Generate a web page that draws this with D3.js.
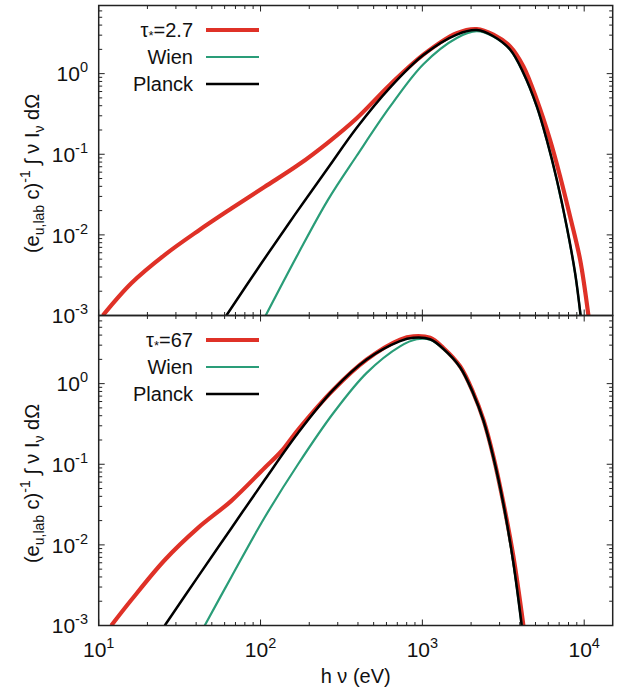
<!DOCTYPE html>
<html lang="en">
<head>
    <meta charset="UTF-8">
    <style>
        body { margin: 0; background: #fff; }
        text { font-family: "Liberation Sans", Arial, sans-serif; fill: #111; }
        .frame { fill: none; stroke: #222; stroke-width: 1.5px; }
        .tick-line { stroke: #222; stroke-width: 1px; }
        .line { fill: none; stroke-linejoin: round; stroke-linecap: butt; }
    </style>
</head>
<body>
    <svg width="627" height="691"></svg>
    <script src="https://cdnjs.cloudflare.com/ajax/libs/d3/7.8.5/d3.min.js"></script>
    <script>

        // top panel, tau* = 2.7
        var topTauE = [10.6, 15.9, 25.6, 41.1, 66.0, 106.2, 170.5, 261, 393, 631, 1014, 1632, 2168, 2746, 3484, 4210, 5093, 6150, 7100, 8180, 9440, 10620];
        var topTauV = [1.0e-3, 2.51e-3, 5.65e-3, 0.0112, 0.0212, 0.0395, 0.0734, 0.1398, 0.280, 0.730, 1.72, 3.18, 3.57, 3.05, 2.18, 1.23, 0.475, 0.151, 0.053, 0.0169, 4.9e-3, 1.0e-3];
        var topWienE = [107.6, 170.5, 261, 393, 631, 1014, 1632, 2168, 2746, 3484, 4210, 5093, 5870, 6780, 7800, 8790, 9500];
        var topWienV = [1.0e-3, 5.8e-3, 0.0272, 0.0958, 0.389, 1.31, 2.77, 3.36, 2.88, 1.97, 1.01, 0.39, 0.15, 0.047, 0.0125, 3.3e-3, 1.0e-3];
        var topPlanckE = [61.5, 101.2, 162.7, 261, 393, 631, 1014, 1632, 2168, 2746, 3484, 4210, 5093, 5870, 6780, 7800, 8790, 9500];
        var topPlanckV = [1.0e-3, 4.45e-3, 0.0177, 0.0674, 0.213, 0.670, 1.70, 3.05, 3.47, 2.91, 1.99, 1.02, 0.393, 0.151, 0.048, 0.0127, 3.34e-3, 1.0e-3];

        // bottom panel, tau* = 67
        var botTauE = [11.96, 15.9, 25.6, 41.1, 66.0, 106.2, 134.5, 170.5, 282, 453, 728, 880, 1116, 1348, 1710, 2066, 2383, 2746, 3170, 3650, 4210];
        var botTauV = [1.0e-3, 2.07e-3, 6.5e-3, 0.01626, 0.0352, 0.0905, 0.145, 0.268, 0.841, 1.99, 3.52, 3.87, 3.70, 2.77, 1.64, 0.766, 0.357, 0.125, 0.033, 7.2e-3, 1.0e-3];
        var botWienE = [45.2, 66.0, 106.2, 170.5, 282, 453, 728, 923, 1116, 1348, 1710, 2066, 2383, 2746, 3170, 3650, 4110];
        var botWienV = [1.0e-3, 4.0e-3, 0.022, 0.1, 0.432, 1.36, 2.90, 3.55, 3.50, 2.68, 1.59, 0.74, 0.345, 0.12, 0.031, 5.9e-3, 1.0e-3];
        var botPlanckE = [25.6, 41.1, 66.0, 106.2, 170.5, 282, 453, 728, 880, 1116, 1348, 1710, 2066, 2383, 2746, 3170, 3650, 4110];
        var botPlanckV = [1.0e-3, 4.04e-3, 0.0161, 0.0642, 0.244, 0.841, 1.99, 3.36, 3.70, 3.55, 2.70, 1.60, 0.75, 0.35, 0.122, 0.032, 6.0e-3, 1.0e-3];

        var xTickExp = [1, 2, 3, 4];
        var yTickExp = [-3, -2, -1, 0];
        var legendNames = ["=2.7", "=67"];

        var svg = d3.select("svg"),
                left = 98.7, right = 612.7,
                panelH = 310,
                tops = [5.5, 315.5];

        var x = d3.scaleLog().domain([10, 15000]).range([left, right]);

        var line = d3.line()
                .curve(d3.curveCatmullRom.alpha(0.5))
                .x(function(d) { return x(d[0]); });

        function zip(e, v) {
            return e.map(function(d, i) { return [d, v[i]]; });
        }

        function minors(lo, hi) {
            var out = [];
            for (var p = Math.floor(Math.log10(lo)); p <= Math.ceil(Math.log10(hi)); p++) {
                for (var m = 2; m <= 9; m++) {
                    var v = m * Math.pow(10, p);
                    if (v > lo && v < hi) out.push(v);
                }
            }
            return out;
        }

        var panels = [
            {series: [
                {name: "tau", e: topTauE, v: topTauV, color: "#df3127", w: 4.2},
                {name: "Wien", e: topWienE, v: topWienV, color: "#2a9d78", w: 2.2},
                {name: "Planck", e: topPlanckE, v: topPlanckV, color: "#000", w: 2.5}
            ], tau: legendNames[0]},
            {series: [
                {name: "tau", e: botTauE, v: botTauV, color: "#df3127", w: 4.2},
                {name: "Wien", e: botWienE, v: botWienV, color: "#2a9d78", w: 2.2},
                {name: "Planck", e: botPlanckE, v: botPlanckV, color: "#000", w: 2.5}
            ], tau: legendNames[1]}
        ];

        panels.forEach(function(p, pi) {
            var top = tops[pi],
                    bottom = top + panelH;
            var y = d3.scaleLog().domain([1e-3, 7]).range([bottom, top]);
            var g = svg.append("g");

            svg.append("clipPath").attr("id", "clip" + pi)
                    .append("rect")
                    .attr("x", left).attr("y", top)
                    .attr("width", right - left).attr("height", panelH);

            var lines = g.append("g").attr("clip-path", "url(#clip" + pi + ")");
            line.y(function(d) { return y(d[1]); });
            p.series.forEach(function(s) {
                lines.append("path")
                        .attr("class", "line")
                        .attr("d", line(zip(s.e, s.v)))
                        .style("stroke", s.color)
                        .style("stroke-width", s.w);
            });

            // ticks, all pointing inward
            var xMaj = xTickExp.map(function(k) { return Math.pow(10, k); }),
                    yMaj = yTickExp.map(function(k) { return Math.pow(10, k); });
            var ticks = g.append("g");
            [[xMaj, 6], [minors(10, 15000), 3.5]].forEach(function(t) {
                t[0].forEach(function(v) {
                    ticks.append("line").attr("class", "tick-line")
                            .attr("x1", x(v)).attr("x2", x(v))
                            .attr("y1", bottom).attr("y2", bottom - t[1]);
                    ticks.append("line").attr("class", "tick-line")
                            .attr("x1", x(v)).attr("x2", x(v))
                            .attr("y1", top).attr("y2", top + t[1]);
                });
            });
            [[yMaj, 6], [minors(1e-3, 7), 3.5]].forEach(function(t) {
                t[0].forEach(function(v) {
                    ticks.append("line").attr("class", "tick-line")
                            .attr("x1", left).attr("x2", left + t[1])
                            .attr("y1", y(v)).attr("y2", y(v));
                    ticks.append("line").attr("class", "tick-line")
                            .attr("x1", right).attr("x2", right - t[1])
                            .attr("y1", y(v)).attr("y2", y(v));
                });
            });

            g.append("rect").attr("class", "frame")
                    .attr("x", left).attr("y", top)
                    .attr("width", right - left).attr("height", panelH);

            // y tick labels
            yTickExp.forEach(function(k) {
                var t = g.append("text")
                        .attr("x", 88).attr("y", y(Math.pow(10, k)) + 7.8)
                        .attr("text-anchor", "end")
                        .style("font-size", "21px");
                t.append("tspan").text("10");
                t.append("tspan").attr("dy", -9).style("font-size", "14.5px").text(k);
            });

            // y label
            var yl = g.append("text")
                    .attr("transform", "translate(39," + (top + panelH / 2 + 13) + ") rotate(-90)")
                    .attr("text-anchor", "middle")
                    .style("font-size", "20px");
            yl.append("tspan").text("(e");
            yl.append("tspan").attr("dy", 5).style("font-size", "14px").text("u,lab");
            yl.append("tspan").attr("dy", -5).text(" c)");
            yl.append("tspan").attr("dy", -9).style("font-size", "14px").text("-1");
            yl.append("tspan").attr("dy", 9).text(" \u222B \u03BD I");
            yl.append("tspan").attr("dy", 5).style("font-size", "14px").text("\u03BD");
            yl.append("tspan").attr("dy", -5).text(" d\u03A9");

            // legend
            var ly = [top + 24.5, top + 51.5, top + 78.5];
            var leg = g.append("g");
            p.series.forEach(function(s, i) {
                var t = leg.append("text")
                        .attr("x", 193).attr("y", ly[i] + 7)
                        .attr("text-anchor", "end")
                        .style("font-size", "20px");
                if (s.name === "tau") {
                    t.append("tspan").text("\u03C4");
                    t.append("tspan").attr("dy", 3).style("font-size", "13px").text("*");
                    t.append("tspan").attr("dy", -3).text(p.tau);
                } else {
                    t.text(s.name);
                }
                leg.append("line")
                        .attr("x1", 206).attr("x2", 259)
                        .attr("y1", ly[i]).attr("y2", ly[i])
                        .style("stroke", s.color)
                        .style("stroke-width", s.w);
            });
        });

        // x tick labels and label at the bottom
        var xb = tops[1] + panelH;
        xTickExp.forEach(function(k) {
            var t = svg.append("text")
                    .attr("x", x(Math.pow(10, k))).attr("y", xb + 31)
                    .attr("text-anchor", "middle")
                    .style("font-size", "21px");
            t.append("tspan").text("10");
            t.append("tspan").attr("dy", -9).style("font-size", "14.5px").text(k);
        });

        svg.append("text")
                .attr("x", (left + right) / 2).attr("y", 683)
                .attr("text-anchor", "middle")
                .style("font-size", "20px")
                .text("h \u03BD (eV)");

    </script>
</body>
</html>
